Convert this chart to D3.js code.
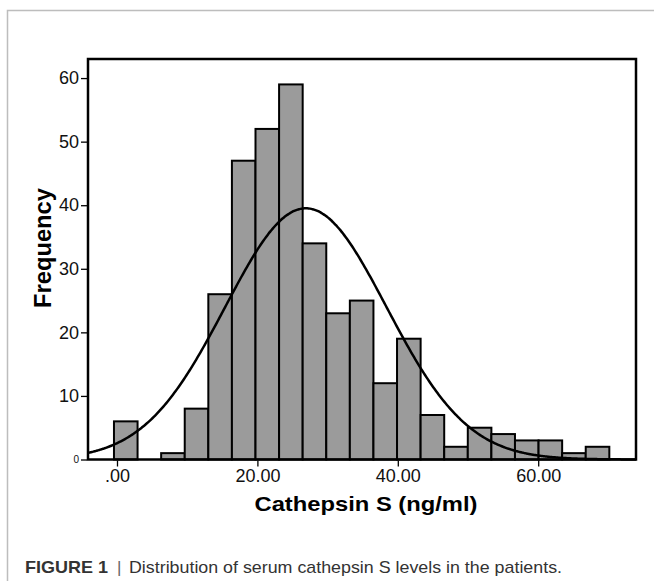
<!DOCTYPE html>
<html>
<head>
<meta charset="utf-8">
<script src="https://cdn.jsdelivr.net/npm/d3@7"></script>
<style>
  html, body { margin: 0; padding: 0; background: #fff; }
  svg { display: block; }
</style>
</head>
<body>
<svg id="chart" width="654" height="581"></svg>
<script>
// ---- data ----
const counts = [6, 0, 1, 8, 26, 47, 52, 59, 34, 23, 25, 12, 19, 7, 2, 5, 4, 3, 3, 1, 2];
const binStart = -0.43;   // lower edge of first bin (ng/ml)
const binWidth = 3.36;    // bin width (ng/ml)
const xTickValues = [0, 20, 40, 60];
const xTickLabels = [".00", "20.00", "40.00", "60.00"];
const yTickValues = [0, 10, 20, 30, 40, 50, 60];
const yTickLabels = ["0", "10", "20", "30", "40", "50", "60"];
const fitMean = 26.9;
const fitSD = 11.5;
const fitN = 339;
const xTitle = "Cathepsin S (ng/ml)";
const yTitle = "Frequency";
const captionBold = "FIGURE 1";
const captionText = "Distribution of serum cathepsin S levels in the patients.";

// ---- layout ----
const svg = d3.select("#chart");
const pLeft = 88, pRight = 636, pTop = 59, pBottom = 459.5;
const FONT = "Liberation Sans, Arial, sans-serif";

const x = d3.scaleLinear().domain([-4.13, 73.93]).range([pLeft, pRight]);
const y = d3.scaleLinear().domain([0, 63]).range([pBottom, pTop]);

// outer figure border (top + left)
svg.append("path")
  .attr("d", `M7.5,581 L7.5,10.5 L654,10.5`)
  .attr("fill", "none").attr("stroke", "#bdbdbd").attr("stroke-width", 1.5);

// bars
const bins = counts.map((c, i) => ({ x0: binStart + i * binWidth, x1: binStart + (i + 1) * binWidth, c }));
svg.append("g").selectAll("rect")
  .data(bins.filter(d => d.c > 0))
  .join("rect")
  .attr("x", d => x(d.x0))
  .attr("width", d => x(d.x1) - x(d.x0))
  .attr("y", d => y(d.c))
  .attr("height", d => y(0) - y(d.c))
  .attr("fill", "#9b9b9b")
  .attr("stroke", "#000")
  .attr("stroke-width", 2);

// normal curve
const normal = v => fitN * binWidth / (fitSD * Math.sqrt(2 * Math.PI)) * Math.exp(-((v - fitMean) ** 2) / (2 * fitSD * fitSD));
const xs = d3.range(0, 401).map(i => -4.13 + i * (73.93 + 4.13) / 400);
svg.append("path")
  .datum(xs)
  .attr("d", d3.line().x(v => x(v)).y(v => y(normal(v))).curve(d3.curveBasis))
  .attr("fill", "none").attr("stroke", "#000").attr("stroke-width", 2.5);

// frame
svg.append("rect")
  .attr("x", pLeft).attr("y", pTop)
  .attr("width", pRight - pLeft).attr("height", pBottom - pTop)
  .attr("fill", "none").attr("stroke", "#000").attr("stroke-width", 2.5);

// axes
const xAxis = d3.axisBottom(x).tickValues(xTickValues)
  .tickFormat((d, i) => xTickLabels[i]).tickSize(6).tickPadding(3);
const gx = svg.append("g").attr("transform", `translate(0,${pBottom + 1})`).call(xAxis);
gx.select(".domain").remove();
gx.selectAll(".tick line").attr("stroke", "#000").attr("stroke-width", 1.3);
gx.selectAll(".tick text")
  .attr("font-family", FONT)
  .attr("font-size", 18).attr("fill", "#111");

const yAxis = d3.axisLeft(y).tickValues(yTickValues)
  .tickFormat((d, i) => yTickLabels[i]).tickSize(6).tickPadding(2);
const gy = svg.append("g").attr("transform", `translate(${pLeft - 1},0)`).call(yAxis);
gy.select(".domain").remove();
gy.selectAll(".tick line").attr("stroke", "#000").attr("stroke-width", 1.3);
gy.selectAll(".tick text")
  .attr("font-family", FONT)
  .attr("font-size", d => d === 0 ? 10 : 18).attr("fill", "#111");

// axis titles
svg.append("text")
  .attr("x", 366).attr("y", 511)
  .attr("text-anchor", "middle")
  .attr("font-family", FONT)
  .attr("font-weight", "bold").attr("font-size", 21)
  .attr("fill", "#000")
  .attr("textLength", 223).attr("lengthAdjust", "spacingAndGlyphs")
  .text(xTitle);

svg.append("text")
  .attr("transform", "translate(51,248) rotate(-90)")
  .attr("text-anchor", "middle")
  .attr("font-family", FONT)
  .attr("font-weight", "bold").attr("font-size", 23)
  .attr("fill", "#000")
  .attr("textLength", 120).attr("lengthAdjust", "spacingAndGlyphs")
  .text(yTitle);

// caption
svg.append("text")
  .attr("x", 25).attr("y", 573)
  .attr("font-family", FONT)
  .attr("font-size", 17).attr("fill", "#333")
  .attr("font-weight", "bold")
  .attr("textLength", 83).attr("lengthAdjust", "spacingAndGlyphs")
  .text(captionBold);
svg.append("text")
  .attr("x", 117).attr("y", 573)
  .attr("font-family", FONT)
  .attr("font-size", 17).attr("fill", "#666").text("|");
svg.append("text")
  .attr("x", 129).attr("y", 573)
  .attr("font-family", FONT)
  .attr("font-size", 17).attr("fill", "#333")
  .attr("textLength", 433).attr("lengthAdjust", "spacingAndGlyphs")
  .text(captionText);
</script>
</body>
</html>
